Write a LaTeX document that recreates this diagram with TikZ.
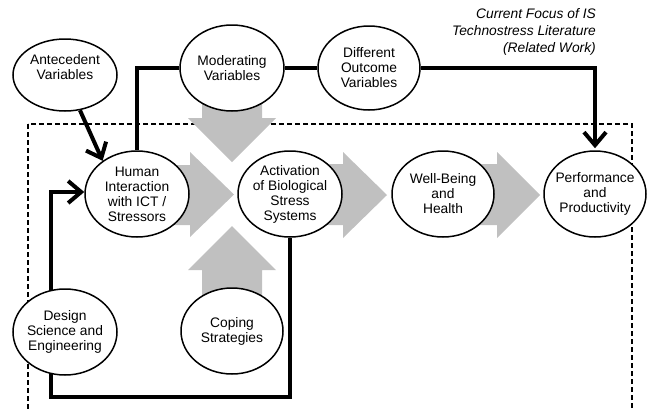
\documentclass[tikz,border=0pt]{standalone}
\usepackage{fontspec}
\setmainfont{Liberation Sans}
\usetikzlibrary{shapes.geometric,arrows.meta}
\definecolor{blockgray}{RGB}{192,192,192}
\pgfdeclarelayer{back}
\pgfdeclarelayer{bg}
\pgfsetlayers{back,bg,main}
\begin{document}
\begin{tikzpicture}[x=1pt,y=-1pt,
  ell/.style={ellipse, draw=black, line width=1.5pt, fill=white, minimum width=104pt, minimum height=86pt, inner sep=0pt},
  lbl/.style={align=center, font=\fontsize{13.8}{15}\selectfont, inner sep=0pt},
  flow/.style={line width=4pt, draw=black},
  tipped/.style={-{Straight Barb[length=13pt,width=22pt]}},
  block/.style={fill=blockgray, draw=none},
  frame/.style={draw=black, line width=1.3pt, dash pattern=on 5pt off 3pt}]
\useasboundingbox (0,0) rectangle (647,410);
\clip (0,0) rectangle (647,410);

% ellipses
\node[ell, minimum height=72pt] (ant) at (65,75) {};
\node[lbl] at (65,67) {Antecedent\\Variables};
\node[ell] (mod) at (232,68) {};
\node[lbl] at (mod) {Moderating\\Variables};
\node[ell, minimum width=102pt, minimum height=84pt] (dov) at (369,68) {};
\node[lbl] at (dov) {Different\\Outcome\\Variables};
\node[ell] (hum) at (137,194) {};
\node[lbl] at (hum) {Human\\Interaction\\with ICT /\\Stressors};
\node[ell] (act) at (290,194) {};
\node[lbl] at (act) {Activation\\of Biological\\Stress\\Systems};
\node[ell, minimum width=102pt] (well) at (443,194) {};
\node[lbl] at (well) {Well-Being\\and\\Health};
\node[ell, minimum width=102pt] (perf) at (595,194) {};
\node[lbl] at (perf) {Performance\\and\\Productivity};
\node[ell] (des) at (65,332) {};
\node[lbl] at (des) {Design\\Science and\\Engineering};
\node[ell, minimum width=102pt] (cop) at (232,331) {};
\node[lbl] at (cop) {Coping\\Strategies};

\node[anchor=north east, align=right, inner sep=0pt,
      font=\itshape\fontsize{13.8}{17}\selectfont] (focus) at (596,8)
  {Current Focus of IS\\Technostress Literature\\(Related Work)};

\begin{pgfonlayer}{back}
  \draw[frame] (28,124) rectangle (632,440);
\end{pgfonlayer}

\begin{pgfonlayer}{bg}
  % gray block arrows
  \fill[block] (202,100) -- (262,100) -- (262,118) -- (276,118) -- (232,162)
        -- (188,118) -- (202,118) -- cycle;
  \fill[block] (202,300) -- (202,270) -- (188,270) -- (232,226) -- (276,270)
        -- (262,270) -- (262,300) -- cycle;
  \fill[block] (170,165) -- (190,165) -- (190,152) -- (234,194.5) -- (190,237)
        -- (190,225) -- (170,225) -- cycle;
  \fill[block] (320,164) -- (343,164) -- (343,152) -- (387,195) -- (343,238)
        -- (343,225) -- (320,225) -- cycle;
  \fill[block] (475,164) -- (497,164) -- (497,152) -- (540,195) -- (497,238)
        -- (497,225) -- (475,225) -- cycle;
  % connectors
  \draw[flow, tipped] (ant.-67) -- (hum.136);
  \draw[flow] (mod.west) -| (hum.north);
  \draw[flow] (mod.east) -- (dov.west);
  \draw[flow, tipped] (dov.east) -| ([yshift=2pt]perf.north);
  \coordinate (fbcorner) at (51,397);
  \draw[flow, tipped] (act.south) |- (fbcorner) |- ([yshift=2pt]hum.west);
\end{pgfonlayer}
\end{tikzpicture}
\end{document}
